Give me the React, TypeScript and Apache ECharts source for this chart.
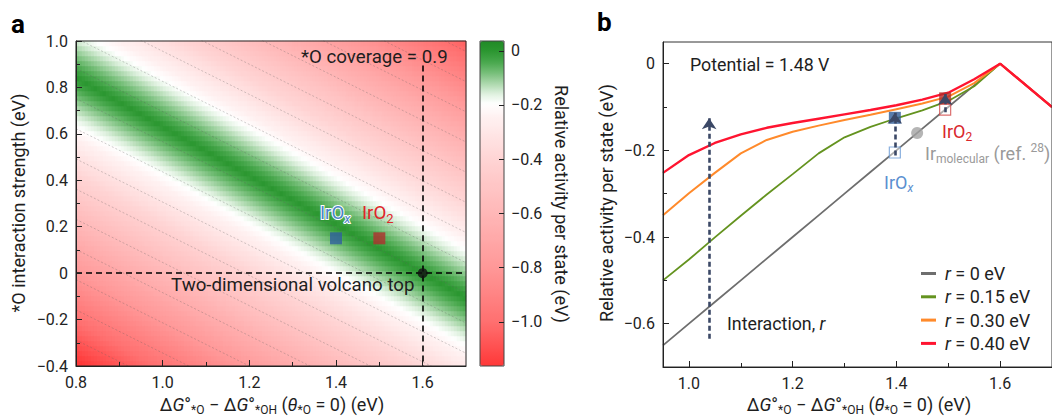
import React, { useEffect, useRef } from "react";
import * as echarts from "echarts";

const FONT = "Roboto, 'Noto Sans', sans-serif";
const INK = "#1e1e1e";

// ---------- Panel a ----------
const A_X_RANGE = [0.8, 1.7];
const A_Y_RANGE = [-0.4, 1.0];
const A_X_TICKS = [0.8, 1.0, 1.2, 1.4, 1.6];
const A_X_MINOR = [0.9, 1.1, 1.3, 1.5];
const A_Y_TICKS = [-0.4, -0.2, 0, 0.2, 0.4, 0.6, 0.8, 1.0];
const A_Y_MINOR = [-0.3, -0.1, 0.1, 0.3, 0.5, 0.7, 0.9];
// volcano top (ΔG, r) and weight of the interaction axis in the ridge direction
const VOLCANO_TOP = [1.6, 0];
const RIDGE_Y_WEIGHT = 0.95;
const HEAT_COLS = 130;
const HEAT_ROWS = 65;
// dotted iso-lines: their y value at ΔG = 0.8 and common slope
const CONTOUR_SLOPE = -0.93;
const CONTOUR_Y_AT_LEFT = [-0.288, -0.158, -0.028, 0.102, 0.232, 0.362, 0.492, 0.622, 0.752, 0.882, 1.012, 1.142, 1.272, 1.402, 1.532, 1.662, 1.792];
const A_MATERIALS = [
  { name: "IrOx", x: 1.4, y: 0.15, color: "#2f5f9e" },
  { name: "IrO2", x: 1.5, y: 0.15, color: "#b0302e" },
];
const COVERAGE_LINE_TOP = 0.895;

// colour bar
const CBAR_RANGE = [-1.163, 0.036];
const CBAR_TICKS = [0, -0.2, -0.4, -0.6, -0.8, -1.0];
const CBAR_STOPS: [number, string][] = [
  [0.036, "#218a27"],
  [0.0, "#2a962f"],
  [-0.04, "#46a74b"],
  [-0.08, "#74bd77"],
  [-0.12, "#aad7ab"],
  [-0.16, "#e0f1e0"],
  [-0.195, "#ffffff"],
  [-0.24, "#fff2f2"],
  [-0.4, "#ffd4d4"],
  [-0.6, "#ffb7b7"],
  [-0.8, "#ff9898"],
  [-1.0, "#ff7070"],
  [-1.163, "#ff3838"],
];

// ---------- Panel b ----------
const B_X_RANGE = [0.95, 1.7];
const B_Y_RANGE = [-0.7, 0.05];
const B_X_TICKS = [1.0, 1.2, 1.4, 1.6];
const B_X_MINOR = [1.1, 1.3, 1.5];
const B_Y_TICKS = [-0.6, -0.4, -0.2, 0];
const B_Y_MINOR = [-0.5, -0.3, -0.1];
const B_X = [0.95, 1.0, 1.05, 1.1, 1.15, 1.2, 1.25, 1.3, 1.35, 1.4, 1.45, 1.5, 1.55, 1.6, 1.7];
const R_0 = [-0.65, -0.6, -0.55, -0.5, -0.45, -0.4, -0.35, -0.3, -0.25, -0.2, -0.15, -0.1, -0.05, 0, -0.1];
const R_015 = [-0.5, -0.452, -0.401, -0.351, -0.302, -0.255, -0.207, -0.17, -0.146, -0.126, -0.108, -0.086, -0.052, 0, -0.1];
const R_030 = [-0.35, -0.299, -0.252, -0.207, -0.176, -0.157, -0.143, -0.13, -0.118, -0.105, -0.092, -0.076, -0.045, 0, -0.1];
const R_040 = [-0.252, -0.211, -0.183, -0.163, -0.148, -0.137, -0.127, -0.117, -0.107, -0.096, -0.083, -0.067, -0.036, 0, -0.1];
const B_SERIES = [
  { name: "r = 0 eV", data: R_0, color: "#6e6e6e", width: 1.8 },
  { name: "r = 0.15 eV", data: R_015, color: "#64931f", width: 1.8 },
  { name: "r = 0.30 eV", data: R_030, color: "#ff8a2b", width: 2 },
  { name: "r = 0.40 eV", data: R_040, color: "#ff1430", width: 2.4 },
];
const B_FILLED = [
  { x: 1.397, y: -0.125, color: "#2f5b96" },
  { x: 1.494, y: -0.08, color: "#b12b2b" },
];
const B_OPEN = [
  { x: 1.397, y: -0.205, color: "#6b9bd6" },
  { x: 1.494, y: -0.106, color: "#d24a4a" },
];
const B_IR_MOLECULAR = [1.44, -0.16];
const B_SHORT_ARROWS = [
  [1.397, -0.212, -0.113],
  [1.494, -0.112, -0.07],
];
const B_BIG_ARROW = [1.039, -0.635, -0.126];

// ---------- helpers ----------
function hexToRgb(h: string) {
  const n = parseInt(h.slice(1), 16);
  return [(n >> 16) & 255, (n >> 8) & 255, n & 255];
}
function colorAt(v: number) {
  const s = [...CBAR_STOPS].sort((a, b) => a[0] - b[0]);
  if (v <= s[0][0]) return s[0][1];
  for (let k = 1; k < s.length; k++) {
    if (v <= s[k][0]) {
      const t = (v - s[k - 1][0]) / (s[k][0] - s[k - 1][0]);
      const a = hexToRgb(s[k - 1][1]);
      const b = hexToRgb(s[k][1]);
      const c = a.map((q, i) => Math.round(q + (b[i] - q) * t));
      return `rgb(${c[0]},${c[1]},${c[2]})`;
    }
  }
  return s[s.length - 1][1];
}
const fmt = (v: number) => (Math.abs(v) < 1e-9 ? "0" : v < 0 ? "\u2212" + Math.abs(v).toFixed(1) : v.toFixed(1));

function rich(color: string, size = 17) {
  const base = { fontSize: size, fontFamily: FONT, fill: color, color };
  const sub = Math.round(size * 0.68);
  return {
    n: { ...base },
    i: { ...base, fontStyle: "italic" },
    s: { ...base, fontSize: sub, padding: [11, 0, 0, 0] },
    si: { ...base, fontSize: sub, fontStyle: "italic", padding: [11, 0, 0, 0] },
    sup: { ...base, fontSize: sub, padding: [0, 0, 10, 0] },
  };
}
function txt(x: number, y: number, text: string, color = INK, extra: any = {}, size = 18) {
  return {
    type: "text",
    x,
    y,
    z: 100,
    silent: true,
    rotation: extra.rotation || 0,
    style: {
      text,
      fill: color,
      fontSize: size,
      fontFamily: FONT,
      fontWeight: extra.fontWeight || "normal",
      textAlign: extra.align || "left",
      textVerticalAlign: "middle",
      rich: rich(color, size),
      ...(extra.stroke ? { stroke: extra.stroke, lineWidth: extra.lineWidth || 2 } : {}),
    },
  };
}

function valueAxis(gridIndex: number, range: number[], ticks: number[], tickLen: number, labels: boolean, line: boolean, position?: string) {
  return {
    type: "value",
    gridIndex,
    min: range[0],
    max: range[1],
    position,
    z: 10,
    axisLine: { show: line, onZero: false, lineStyle: { color: "#222", width: 1 } },
    axisTick: { show: true, inside: true, length: tickLen, customValues: ticks, lineStyle: { color: "#222", width: 1 } },
    axisLabel: labels
      ? { show: true, customValues: ticks, formatter: fmt, color: "#222", fontSize: 16, fontFamily: FONT, margin: 8 }
      : { show: false },
    splitLine: { show: false },
  };
}

function buildOption() {
  // heatmap cells
  const xs = Array.from({ length: HEAT_COLS }, (_, i) => A_X_RANGE[0] + ((i + 0.5) * (A_X_RANGE[1] - A_X_RANGE[0])) / HEAT_COLS);
  const ys = Array.from({ length: HEAT_ROWS }, (_, j) => A_Y_RANGE[0] + ((j + 0.5) * (A_Y_RANGE[1] - A_Y_RANGE[0])) / HEAT_ROWS);
  const heat: number[][] = [];
  for (let i = 0; i < HEAT_COLS; i++)
    for (let j = 0; j < HEAT_ROWS; j++) {
      const d = xs[i] - VOLCANO_TOP[0] + RIDGE_Y_WEIGHT * (ys[j] - VOLCANO_TOP[1]);
      heat.push([i, j, -Math.abs(d)]);
    }
  const N = 121;
  const cmap = Array.from({ length: N }, (_, k) => colorAt(CBAR_RANGE[0] + (k * (CBAR_RANGE[1] - CBAR_RANGE[0])) / (N - 1)));

  const contours = CONTOUR_Y_AT_LEFT.map((c) => ({
    coords: [
      [A_X_RANGE[0], c],
      [A_X_RANGE[1], c + CONTOUR_SLOPE * (A_X_RANGE[1] - A_X_RANGE[0])],
    ],
  }));

  const GA = { left: 76, top: 41, width: 390, height: 325 };
  const GB = { left: 663, top: 42, width: 392, height: 325 };

  const xT = `{n|\u0394}{i|G}{n|\u00b0}{s|*O}{n| \u2212 \u0394}{i|G}{n|\u00b0}{s|*OH}{n| (}{i|\u03b8}{s|*O}{n| = 0) (eV)}`;

  return {
    animation: false,
    backgroundColor: "#fff",
    grid: [
      { ...GA },
      { ...GA, show: true, borderColor: "#222", borderWidth: 1, backgroundColor: "transparent", z: 8 },
      { ...GA },
      { left: 480, top: 41, width: 24, height: 325, show: true, borderColor: "#444", borderWidth: 1, backgroundColor: "transparent", z: 8 },
      { ...GB, show: true, borderColor: "#333", borderWidth: 1, backgroundColor: "transparent", z: 8 },
      { ...GB },
    ],
    xAxis: [
      { type: "category", gridIndex: 0, data: xs.map((_, i) => i), show: false, boundaryGap: true },
      valueAxis(1, A_X_RANGE, A_X_TICKS, 6, true, true),
      valueAxis(2, A_X_RANGE, A_X_MINOR, 4, false, false),
      { type: "value", gridIndex: 3, show: false },
      valueAxis(4, B_X_RANGE, B_X_TICKS, 6, true, true),
      valueAxis(5, B_X_RANGE, B_X_MINOR, 4, false, false),
    ],
    yAxis: [
      { type: "category", gridIndex: 0, data: ys.map((_, j) => j), show: false, boundaryGap: true },
      valueAxis(1, A_Y_RANGE, A_Y_TICKS, 6, true, true),
      valueAxis(2, A_Y_RANGE, A_Y_MINOR, 4, false, false),
      { ...valueAxis(3, CBAR_RANGE, CBAR_TICKS, 5, true, false, "right"), axisLabel: { show: true, customValues: CBAR_TICKS, formatter: fmt, color: "#222", fontSize: 16, fontFamily: FONT, margin: 7 } },
      valueAxis(4, B_Y_RANGE, B_Y_TICKS, 6, true, true),
      valueAxis(5, B_Y_RANGE, B_Y_MINOR, 4, false, false),
    ],
    visualMap: {
      type: "continuous",
      seriesIndex: 0,
      dimension: 2,
      min: CBAR_RANGE[0],
      max: CBAR_RANGE[1],
      left: 480,
      top: 41,
      itemWidth: 24,
      itemHeight: 325,
      padding: 0,
      calculable: false,
      hoverLink: false,
      realtime: false,
      showLabel: false,
      text: null,
      inRange: { color: cmap },
    },
    legend: {
      left: 921,
      top: 263,
      orient: "vertical",
      padding: 0,
      icon: "rect",
      itemWidth: 15,
      itemHeight: 3,
      itemGap: 2.3,
      selectedMode: false,
      data: B_SERIES.map((s) => s.name),
      formatter: (n: string) => `{i|r}{t|${n.slice(1)}}`,
      textStyle: {
        fontSize: 18,
        fontFamily: FONT,
        color: "#222",
        lineHeight: 21,
        padding: [0, 0, 0, 4],
        rich: {
          i: { fontStyle: "italic", fontSize: 18, fontFamily: FONT, color: "#222" },
          t: { fontSize: 18, fontFamily: FONT, color: "#222" },
        },
      },
    },
    series: [
      {
        type: "heatmap",
        xAxisIndex: 0,
        yAxisIndex: 0,
        data: heat,
        progressive: 0,
        silent: true,
        emphasis: { disabled: true },
        z: 1,
      },
      {
        type: "lines",
        coordinateSystem: "cartesian2d",
        xAxisIndex: 1,
        yAxisIndex: 1,
        clip: true,
        silent: true,
        z: 3,
        lineStyle: { color: "rgba(95,95,95,0.6)", width: 1, type: [2, 2] },
        data: contours,
      },
      {
        type: "lines",
        coordinateSystem: "cartesian2d",
        xAxisIndex: 1,
        yAxisIndex: 1,
        silent: true,
        z: 4,
        lineStyle: { color: "#000", width: 1.6, type: [6, 4], opacity: 1 },
        data: [
          { coords: [[VOLCANO_TOP[0], COVERAGE_LINE_TOP], [VOLCANO_TOP[0], A_Y_RANGE[0]]] },
          { coords: [[A_X_RANGE[0], VOLCANO_TOP[1]], [A_X_RANGE[1], VOLCANO_TOP[1]]] },
        ],
      },
      {
        type: "scatter",
        xAxisIndex: 1,
        yAxisIndex: 1,
        silent: true,
        z: 5,
        data: [
          { value: VOLCANO_TOP, symbol: "circle", symbolSize: 10, itemStyle: { color: "#111" } },
          ...A_MATERIALS.map((m) => ({ value: [m.x, m.y], symbol: "rect", symbolSize: 12, itemStyle: { color: m.color } })),
        ],
      },
      ...B_SERIES.map((s, k) => ({
        type: "line",
        name: s.name,
        xAxisIndex: 4,
        yAxisIndex: 4,
        data: B_X.map((x, i) => [x, s.data[i]]),
        showSymbol: false,
        symbol: "none",
        color: s.color,
        itemStyle: { color: s.color },
        lineStyle: { color: s.color, width: s.width },
        silent: true,
        z: 3 + k * 0.1,
      })),
      {
        type: "scatter",
        xAxisIndex: 4,
        yAxisIndex: 4,
        silent: true,
        z: 6,
        data: [
          ...B_OPEN.map((m) => ({ value: [m.x, m.y], symbol: "rect", symbolSize: 11, itemStyle: { color: "rgba(255,255,255,0.55)", borderColor: m.color, borderWidth: 1.2 } })),
          ...B_FILLED.map((m) => ({ value: [m.x, m.y], symbol: "rect", symbolSize: 12, itemStyle: { color: m.color } })),
          { value: B_IR_MOLECULAR, symbol: "circle", symbolSize: 12, itemStyle: { color: "#a2a2a2" } },
        ],
      },
      {
        type: "lines",
        coordinateSystem: "cartesian2d",
        xAxisIndex: 4,
        yAxisIndex: 4,
        silent: true,
        z: 7,
        symbol: ["none", "arrow"],
        symbolSize: [8, 11],
        lineStyle: { color: "#3b4866", width: 2.6, type: [5, 3], opacity: 1 },
        data: [
          { coords: [[B_BIG_ARROW[0], B_BIG_ARROW[1]], [B_BIG_ARROW[0], B_BIG_ARROW[2]]] },
          ...B_SHORT_ARROWS.map((a) => ({ coords: [[a[0], a[1]], [a[0], a[2]]] })),
        ],
      },
    ],
    graphic: [
      txt(11, 23.5, "a", "#000", { fontWeight: "bold" }, 26),
      txt(597, 21.5, "b", "#000", { fontWeight: "bold" }, 26),
      txt(272, 404, xT, INK, { align: "center" }, 18),
      txt(18, 203, "*O interaction strength (eV)", INK, { align: "center", rotation: Math.PI / 2 }, 18),
      txt(561, 204, "Relative activity per state (eV)", INK, { align: "center", rotation: -Math.PI / 2 }, 18),
      txt(301, 57, "*O coverage = 0.9", INK, {}, 18.7),
      txt(171, 285, "Two-dimensional volcano top", INK, {}, 18.7),
      txt(320, 213, "{n|IrO}{si|x}", "#4a84c8", { stroke: "#fff", lineWidth: 2 }, 18.7),
      txt(362, 213, "{n|IrO}{s|2}", "#e0242a", {}, 18.7),
      txt(606, 203, "Relative activity per state (eV)", INK, { align: "center", rotation: Math.PI / 2 }, 18),
      txt(859, 404, xT, INK, { align: "center" }, 18),
      txt(690, 64, "Potential = 1.48 V", INK, {}, 17.8),
      txt(727, 323, "Interaction, {i|r}", INK, {}, 17.8),
      txt(942, 131, "{n|IrO}{s|2}", "#d9262c", {}, 18),
      txt(925, 153, "{n|Ir}{s|molecular}{n| (ref. }{sup|28}{n|)}", "#9a9a9a", {}, 18),
      txt(884, 182, "{n|IrO}{si|x}", "#5b8fd0", {}, 18),
    ],
  };
}

export default function App() {
  const ref = useRef<HTMLDivElement>(null);
  useEffect(() => {
    const chart = echarts.init(ref.current!, null, { renderer: "svg" });
    chart.setOption(buildOption() as any);
    return () => chart.dispose();
  }, []);
  return (
    <div
      ref={ref}
      style={{ position: "fixed", left: 0, top: 0, width: 1052, height: 417, background: "#fff", overflow: "hidden" }}
    />
  );
}
